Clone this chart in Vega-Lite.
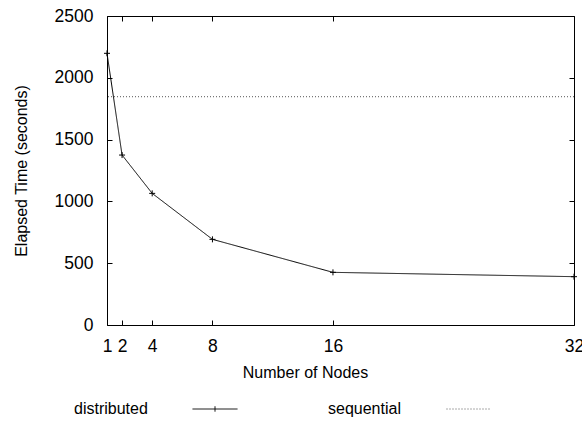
{
  "$schema": "https://vega.github.io/schema/vega-lite/v6.json",
  "width": 467,
  "height": 309,
  "autosize": {"type": "none"},
  "padding": {"left": 107, "top": 16, "right": 8, "bottom": 96},
  "background": "white",
  "config": {
    "font": "Liberation Sans",
    "view": {"stroke": "black", "strokeWidth": 1},
    "axis": {
      "domain": false,
      "grid": false,
      "ticks": true,
      "tickColor": "black",
      "tickSize": -5,
      "tickWidth": 1,
      "labelColor": "black",
      "labelFont": "Liberation Sans",
      "labelFontSize": 17.5,
      "labelFlush": false,
      "labelOverlap": false,
      "titleFont": "Liberation Sans",
      "titleFontSize": 16,
      "titleFontWeight": "normal",
      "titleColor": "black",
      "format": "d"
    },
    "legend": {
      "orient": "none",
      "direction": "horizontal",
      "legendX": -33,
      "legendY": 370,
      "padding": 0,
      "labelFont": "Liberation Sans",
      "labelFontSize": 16,
      "labelColor": "black",
      "symbolSize": 2025,
      "symbolStrokeWidth": 1,
      "symbolOffset": 118,
      "labelOffset": -164,
      "columnPadding": 88
    }
  },
  "datasets": {
    "dist": [
      {"series": "distributed", "nodes": 1, "time": 2198},
      {"series": "distributed", "nodes": 2, "time": 1375},
      {"series": "distributed", "nodes": 4, "time": 1065},
      {"series": "distributed", "nodes": 8, "time": 693},
      {"series": "distributed", "nodes": 16, "time": 426},
      {"series": "distributed", "nodes": 32, "time": 391}
    ],
    "seq": [
      {"series": "sequential", "time": 1847}
    ]
  },
  "resolve": {"axis": {"x": "independent", "y": "independent"}},
  "layer": [
    {
      "data": {"name": "seq"},
      "mark": {"type": "rule", "strokeWidth": 1},
      "encoding": {
        "y": {"field": "time", "type": "quantitative", "scale": {"domain": [0, 2500], "nice": false, "zero": false}, "axis": null},
        "color": {"field": "series", "type": "nominal", "scale": {"domain": ["distributed", "sequential"], "range": ["black", "#555555"]}, "legend": {
          "title": null,
          "encode": {"symbols": {"update": {"shape": {"signal": "datum.value === 'distributed' ? 'M-1,0H1M0,-0.12V0.12' : 'M-1,0H1'"}}}}
        }},
        "strokeDash": {"field": "series", "type": "nominal", "scale": {"domain": ["distributed", "sequential"], "range": [[1, 0], [1, 2]]}, "legend": {
          "title": null,
          "encode": {"symbols": {"update": {"shape": {"signal": "datum.value === 'distributed' ? 'M-1,0H1M0,-0.12V0.12' : 'M-1,0H1'"}}}}
        }}
      }
    },
    {
      "data": {"name": "dist"},
      "mark": {"type": "line", "strokeWidth": 1},
      "encoding": {
        "x": {"field": "nodes", "type": "quantitative", "scale": {"domain": [1, 32], "nice": false, "zero": false},
              "axis": {"orient": "bottom", "values": [1, 2, 4, 8, 16, 32], "title": "Number of Nodes", "labelPadding": 17, "titleX": 198, "titlePadding": 10}},
        "y": {"field": "time", "type": "quantitative", "scale": {"domain": [0, 2500], "nice": false, "zero": false},
              "axis": {"orient": "left", "values": [0, 500, 1000, 1500, 2000, 2500], "title": "Elapsed Time (seconds)", "labelPadding": 19, "titlePadding": 25}},
        "color": {"field": "series", "type": "nominal"},
        "strokeDash": {"field": "series", "type": "nominal"}
      }
    },
    {
      "data": {"name": "dist"},
      "mark": {"type": "point", "filled": false, "strokeWidth": 1, "opacity": 1, "shape": "M-1,0H1M0,-1V1", "size": 36, "color": "black"},
      "encoding": {
        "x": {"field": "nodes", "type": "quantitative", "axis": {"orient": "top", "values": [1, 2, 4, 8, 16, 32], "labels": false, "title": null}},
        "y": {"field": "time", "type": "quantitative", "axis": {"orient": "right", "values": [0, 500, 1000, 1500, 2000, 2500], "labels": false, "title": null}}
      }
    }
  ]
}
